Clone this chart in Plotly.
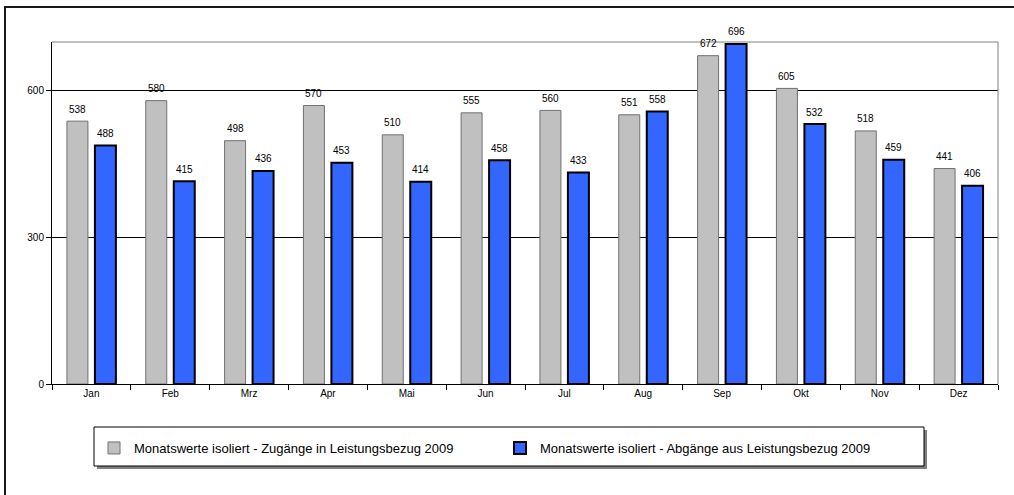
import plotly.graph_objects as go

months = ["Jan", "Feb", "Mrz", "Apr", "Mai", "Jun", "Jul", "Aug", "Sep", "Okt", "Nov", "Dez"]
zugaenge = [538, 580, 498, 570, 510, 555, 560, 551, 672, 605, 518, 441]
abgaenge = [488, 415, 436, 453, 414, 458, 433, 558, 696, 532, 459, 406]
name_zu = "Monatswerte isoliert - Zugänge in Leistungsbezug 2009"
name_ab = "Monatswerte isoliert - Abgänge aus Leistungsbezug 2009"
y_ticks = [0, 300, 600]

W, H = 1014, 495
L, R, T, B = 52, 16, 42, 111
pw, ph = W - L - R, H - T - B

def px(x):
    return (x - L) / pw

def py(y):
    return (H - B - y) / ph

font = "Liberation Sans, Arial, sans-serif"

fig = go.Figure()
fig.add_bar(x=months, y=zugaenge, name=name_zu,
            marker=dict(color="#C0C0C0", line=dict(color="#707070", width=1)))
fig.add_bar(x=months, y=abgaenge, name=name_ab,
            marker=dict(color="#3366FF", line=dict(color="black", width=2)))

# value labels above bars (offset to the grouped bar centres)
annotations = []
for series, shift in ((zugaenge, -14), (abgaenge, 14)):
    for m, v in zip(months, series):
        annotations.append(dict(x=m, y=v, text=str(v), showarrow=False,
                                xshift=shift, yshift=12, yanchor="middle",
                                font=dict(size=10, color="black", family=font)))

shapes = [
    # outer frame
    dict(type="rect", xref="paper", yref="paper", x0=px(5), x1=px(1030), y0=py(520), y1=py(7),
         line=dict(color="#1a1a1a", width=2), layer="below"),
    # plot area top / right borders
    dict(type="line", xref="paper", yref="paper", x0=0, x1=1, y0=1, y1=1,
         line=dict(color="#808080", width=1)),
    dict(type="line", xref="paper", yref="paper", x0=1, x1=1, y0=0, y1=1,
         line=dict(color="#808080", width=1)),
    # legend shadow and box
    dict(type="rect", xref="paper", yref="paper", x0=px(97), x1=px(927), y0=py(469), y1=py(430),
         line=dict(width=0), fillcolor="#808080", layer="below"),
    dict(type="rect", xref="paper", yref="paper", x0=px(94), x1=px(924), y0=py(466), y1=py(427),
         line=dict(color="black", width=1), fillcolor="white", layer="below"),
]

fig.update_layout(
    width=W, height=H,
    margin=dict(l=L, r=R, t=T, b=B),
    paper_bgcolor="white", plot_bgcolor="rgba(0,0,0,0)",
    barmode="group", bargap=0.29, bargroupgap=0.25,
    font=dict(family=font, size=10, color="black"),
    showlegend=True,
    legend=dict(orientation="h", x=px(94), xanchor="left", y=py(433), yanchor="top",
                bgcolor="rgba(0,0,0,0)", borderwidth=0,
                font=dict(size=13, family=font, color="black"),
                entrywidth=361, entrywidthmode="pixels", traceorder="normal"),
    shapes=shapes,
    annotations=annotations,
)
fig.update_xaxes(showline=True, linecolor="black", linewidth=1, ticks="outside",
                 tickson="boundaries", ticklen=5, tickcolor="black", showgrid=False,
                 tickfont=dict(size=10))
fig.update_yaxes(range=[0, 700], tickvals=y_ticks, showline=True, linecolor="black",
                 linewidth=1, ticks="outside", ticklen=5, tickcolor="black",
                 showgrid=True, gridcolor="black", gridwidth=1, zeroline=False,
                 tickfont=dict(size=10))

fig.write_html("out.html", config={"displayModeBar": False},
               post_script="document.body.style.margin='0';")
